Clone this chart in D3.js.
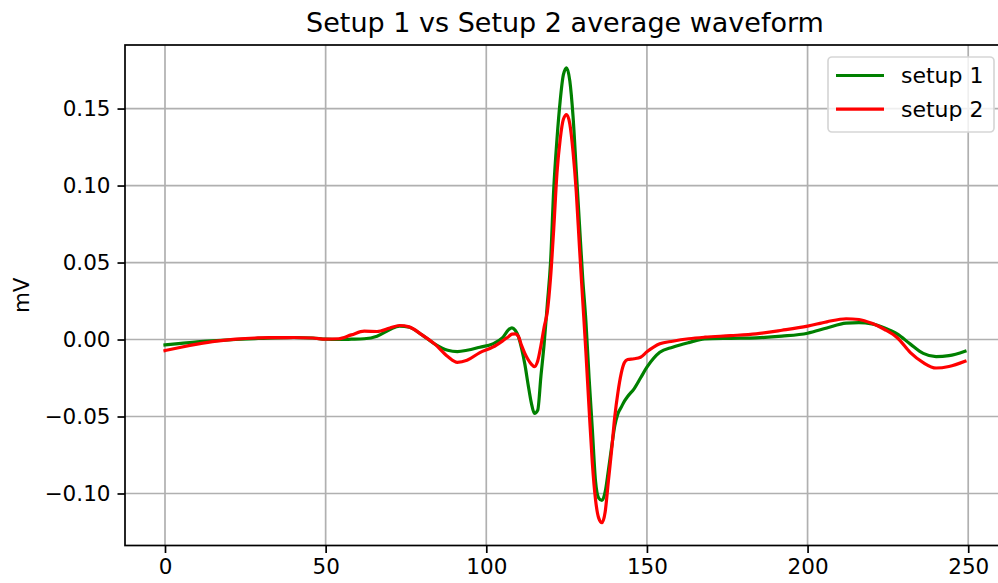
<!DOCTYPE html>
<html>
<head>
<meta charset="utf-8">
<script src="https://cdn.jsdelivr.net/npm/d3@7"></script>
<style>
  html, body { margin: 0; padding: 0; background: #fff; }
  svg { display: block; font-family: "DejaVu Sans", sans-serif; }
</style>
</head>
<body>
<svg id="chart" width="998" height="583"></svg>
<script>
const titleText = "Setup 1 vs Setup 2 average waveform";
const yLabelText = "mV";
const seriesNames = ["setup 1", "setup 2"];
const seriesColors = ["#008000", "#ff0000"];
const xTicks = [0, 50, 100, 150, 200, 250];
const yTicks = [-0.10, -0.05, 0.00, 0.05, 0.10, 0.15];

const sampleIdx = [0, 5, 10, 16, 22, 28, 34, 40, 46, 50, 54, 58, 62, 66, 70, 73, 76, 80, 84, 88, 91, 94, 98, 102, 105, 107, 108, 109, 110, 111, 112, 113, 114, 115, 116, 117, 118, 119, 120, 121, 122, 123, 124, 125, 126, 127, 128, 129, 130, 131, 132, 133, 134, 135, 136, 137, 138, 139, 140, 141, 142, 143, 144, 146, 148, 150, 154, 158, 163, 168, 176, 184, 192, 200, 206, 212, 216, 220, 224, 228, 232, 236, 240, 244, 249];

const setup1 = [-0.0035, -0.0025, -0.0015, -0.0007, 0.0000, 0.0006, 0.0011, 0.0013, 0.0010, 0.0002, 0.0000, 0.0002, 0.0005, 0.0022, 0.0065, 0.0087, 0.0080, 0.0030, -0.0030, -0.0070, -0.0078, -0.0070, -0.0050, -0.0028, 0.0010, 0.0065, 0.0076, 0.0060, 0.0020, -0.0060, -0.0160, -0.0290, -0.0410, -0.0480, -0.0460, -0.0240, -0.0030, 0.0230, 0.0500, 0.0980, 0.1300, 0.1550, 0.1720, 0.1765, 0.1680, 0.1450, 0.1100, 0.0750, 0.0400, 0.0120, -0.0250, -0.0580, -0.0920, -0.1030, -0.1045, -0.0990, -0.0850, -0.0700, -0.0560, -0.0480, -0.0440, -0.0400, -0.0370, -0.0320, -0.0250, -0.0180, -0.0083, -0.0050, -0.0020, 0.0004, 0.0008, 0.0011, 0.0022, 0.0041, 0.0075, 0.0106, 0.0110, 0.0102, 0.0075, 0.0035, -0.0030, -0.0090, -0.0111, -0.0105, -0.0076];

const setup2 = [-0.0072, -0.0050, -0.0030, -0.0010, 0.0003, 0.0010, 0.0012, 0.0013, 0.0010, 0.0002, 0.0005, 0.0030, 0.0054, 0.0052, 0.0075, 0.0091, 0.0082, 0.0030, -0.0030, -0.0110, -0.0148, -0.0135, -0.0085, -0.0050, -0.0010, 0.0020, 0.0035, 0.0037, 0.0020, -0.0040, -0.0090, -0.0130, -0.0160, -0.0176, -0.0140, -0.0040, 0.0080, 0.0180, 0.0400, 0.0720, 0.1080, 0.1300, 0.1430, 0.1460, 0.1400, 0.1220, 0.0960, 0.0600, 0.0260, -0.0080, -0.0450, -0.0800, -0.1040, -0.1160, -0.1190, -0.1120, -0.0920, -0.0720, -0.0500, -0.0340, -0.0220, -0.0150, -0.0130, -0.0125, -0.0115, -0.0080, -0.0028, -0.0011, 0.0005, 0.0015, 0.0025, 0.0037, 0.0060, 0.0087, 0.0115, 0.0135, 0.0130, 0.0105, 0.0065, 0.0010, -0.0085, -0.0150, -0.0185, -0.0175, -0.0141];

const series = [setup1, setup2];

const svg = d3.select("#chart");
const plot = { left: 125, right: 1005, top: 45, bottom: 545.5 };

// matplotlib-like 5% margins
const xExt = d3.extent(sampleIdx);
const xPad = (xExt[1] - xExt[0]) * 0.05;
const allY = setup1.concat(setup2);
const yExt = d3.extent(allY);
const yPad = (yExt[1] - yExt[0]) * 0.05;

const x = d3.scaleLinear().domain([xExt[0] - xPad, xExt[1] + xPad]).range([plot.left, plot.right]);
const y = d3.scaleLinear().domain([yExt[0] - yPad, yExt[1] + yPad]).range([plot.bottom, plot.top]);

const fmtY = v => (v < 0 ? "\u2212" : "") + Math.abs(v).toFixed(2);

// grid
const grid = svg.append("g");
grid.selectAll("line.gx").data(xTicks).enter().append("line")
  .attr("x1", d => x(d)).attr("x2", d => x(d))
  .attr("y1", plot.top).attr("y2", plot.bottom)
  .attr("stroke", "#b0b0b0").attr("stroke-width", 1.7);
grid.selectAll("line.gy").data(yTicks).enter().append("line")
  .attr("x1", plot.left).attr("x2", plot.right)
  .attr("y1", d => y(d)).attr("y2", d => y(d))
  .attr("stroke", "#b0b0b0").attr("stroke-width", 1.7);

// clip
svg.append("clipPath").attr("id", "clip").append("rect")
  .attr("x", plot.left).attr("y", plot.top)
  .attr("width", plot.right - plot.left).attr("height", plot.bottom - plot.top);

const line = d3.line().curve(d3.curveMonotoneX)
  .x((d, i) => x(sampleIdx[i])).y(d => y(d));

svg.append("g").attr("clip-path", "url(#clip)")
  .selectAll("path").data(series).enter().append("path")
  .attr("d", d => line(d))
  .attr("fill", "none")
  .attr("stroke", (d, i) => seriesColors[i])
  .attr("stroke-width", 3.2)
  .attr("stroke-linejoin", "round")
  .attr("stroke-linecap", "square");

// axes
const fontSize = 21.5;
const xAxis = d3.axisBottom(x).tickValues(xTicks).tickSize(7.5).tickPadding(6).tickFormat(d3.format("d"));
const yAxis = d3.axisLeft(y).tickValues(yTicks).tickSize(7.5).tickPadding(7).tickFormat(fmtY);

const gx = svg.append("g").attr("transform", `translate(0,${plot.bottom})`).call(xAxis);
const gy = svg.append("g").attr("transform", `translate(${plot.left},0)`).call(yAxis);
[gx, gy].forEach(g => {
  g.select(".domain").remove();
  g.selectAll(".tick line").attr("stroke", "#000").attr("stroke-width", 1.7);
  g.selectAll(".tick text").attr("fill", "#000")
    .style("font-family", "'DejaVu Sans', sans-serif").style("font-size", fontSize + "px");
});

// spines
svg.append("rect")
  .attr("x", plot.left).attr("y", plot.top)
  .attr("width", plot.right - plot.left).attr("height", plot.bottom - plot.top)
  .attr("fill", "none").attr("stroke", "#000").attr("stroke-width", 1.7);

// title
svg.append("text").attr("x", (plot.left + plot.right) / 2).attr("y", 32)
  .attr("text-anchor", "middle").style("font-size", "27px").attr("fill", "#000")
  .text(titleText);

// y label
svg.append("text")
  .attr("transform", `translate(29,${(plot.top + plot.bottom) / 2}) rotate(-90)`)
  .attr("text-anchor", "middle").style("font-size", fontSize + "px").attr("fill", "#000")
  .text(yLabelText);

// legend
const lg = svg.append("g");
lg.append("rect").attr("x", 828).attr("y", 57).attr("width", 166).attr("height", 75)
  .attr("rx", 4).attr("ry", 4)
  .attr("fill", "#fff").attr("fill-opacity", 0.8)
  .attr("stroke", "#d6d6d6").attr("stroke-width", 1.7);
seriesNames.forEach((name, i) => {
  const yy = 75.5 + i * 33.7;
  lg.append("line").attr("x1", 836).attr("x2", 884).attr("y1", yy).attr("y2", yy)
    .attr("stroke", seriesColors[i]).attr("stroke-width", 3.2);
  lg.append("text").attr("x", 901).attr("y", yy + 7.5)
    .style("font-size", "22px").attr("fill", "#000").text(name);
});
</script>
</body>
</html>
